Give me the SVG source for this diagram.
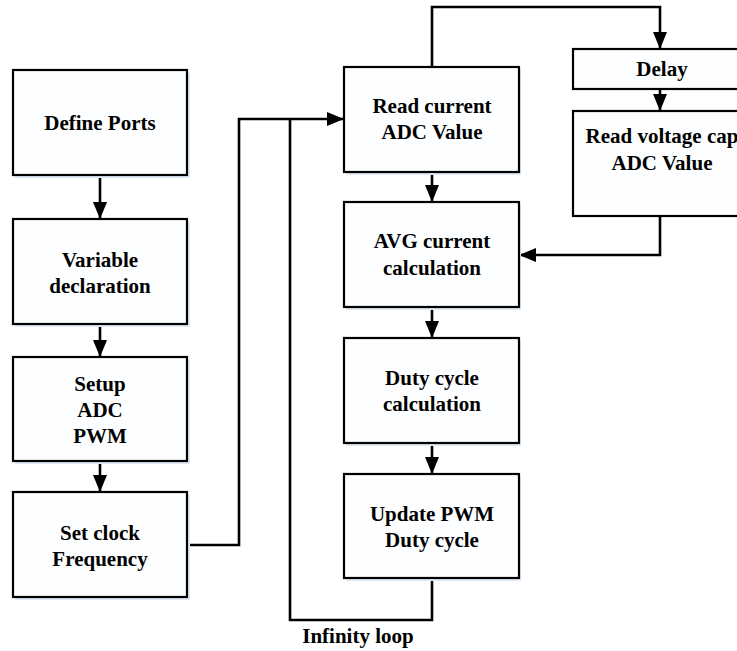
<svg xmlns="http://www.w3.org/2000/svg" width="737" height="651" viewBox="0 0 737 651">
<defs>
<marker id="ah" markerUnits="userSpaceOnUse" markerWidth="17" markerHeight="14" viewBox="0 0 17 14" refX="17" refY="7" orient="auto">
<path d="M0,0 L17,7 L0,14 z" fill="#000"/>
</marker>
</defs>
<style>
.box{fill:#fdfeff;stroke:#000;stroke-width:2.2}
.sh{fill:#dfe9f5}
.t{font-family:'Liberation Serif','Times New Roman',Times,'DejaVu Serif',serif;font-weight:bold;font-size:21px;text-anchor:middle;fill:#000}
.c{fill:none;stroke:#000;stroke-width:2.6}
.a{marker-end:url(#ah)}
</style>
<rect width="737" height="651" fill="#fff"/>
<g id="connectors">
<path class="c a" d="M100,175 V219"/>
<path class="c a" d="M100,324 V357"/>
<path class="c a" d="M100,461 V492"/>
<path class="c a" d="M187,545 H239 V119 H344"/>
<path class="c" d="M432,578 V620 H290 V119"/>
<path class="c a" d="M432,67 V7 H660 V49"/>
<path class="c a" d="M660,89 V111"/>
<path class="c a" d="M660,216 V255 H519"/>
<path class="c a" d="M432,172 V202"/>
<path class="c a" d="M432,307 V338"/>
<path class="c a" d="M432,443 V474"/>
</g>
<g id="n_define">
<rect class="sh" x="15" y="73" width="175" height="105"/>
<rect class="box" x="13" y="70" width="174" height="105"/>
<text class="t" x="100" y="130">Define Ports</text>
</g>
<g id="n_variable">
<rect class="sh" x="15" y="222" width="175" height="105"/>
<rect class="box" x="13" y="219" width="174" height="105"/>
<text class="t" x="100" y="267">Variable</text>
<text class="t" x="100" y="293">declaration</text>
</g>
<g id="n_setup">
<rect class="sh" x="15" y="360" width="175" height="104"/>
<rect class="box" x="13" y="357" width="174" height="104"/>
<text class="t" x="100" y="391">Setup</text>
<text class="t" x="100" y="417">ADC</text>
<text class="t" x="100" y="443">PWM</text>
</g>
<g id="n_clock">
<rect class="sh" x="15" y="495" width="175" height="105"/>
<rect class="box" x="13" y="492" width="174" height="105"/>
<text class="t" x="100" y="540">Set clock</text>
<text class="t" x="100" y="566">Frequency</text>
</g>
<g id="n_readcur">
<rect class="sh" x="346" y="70" width="175" height="105"/>
<rect class="box" x="344" y="67" width="175" height="105"/>
<text class="t" x="432" y="113">Read current</text>
<text class="t" x="432" y="139">ADC Value</text>
</g>
<g id="n_avg">
<rect class="sh" x="346" y="205" width="175" height="105"/>
<rect class="box" x="344" y="202" width="175" height="105"/>
<text class="t" x="432" y="248">AVG current</text>
<text class="t" x="432" y="275">calculation</text>
</g>
<g id="n_duty">
<rect class="sh" x="346" y="341" width="175" height="105"/>
<rect class="box" x="344" y="338" width="175" height="105"/>
<text class="t" x="432" y="385">Duty cycle</text>
<text class="t" x="432" y="411">calculation</text>
</g>
<g id="n_update">
<rect class="sh" x="346" y="477" width="175" height="104"/>
<rect class="box" x="344" y="474" width="175" height="104"/>
<text class="t" x="432" y="521">Update PWM</text>
<text class="t" x="432" y="547">Duty cycle</text>
</g>
<g id="n_delay">
<rect class="box" x="573" y="49" width="175" height="40"/>
<text class="t" x="662" y="76">Delay</text>
</g>
<g id="n_readvolt">
<rect class="box" x="573" y="111" width="175" height="105"/>
<text class="t" x="662" y="143">Read voltage cap</text>
<text class="t" x="662" y="170">ADC Value</text>
</g>
<g id="label">
<text class="t" x="358" y="643">Infinity loop</text>
</g>
</svg>
